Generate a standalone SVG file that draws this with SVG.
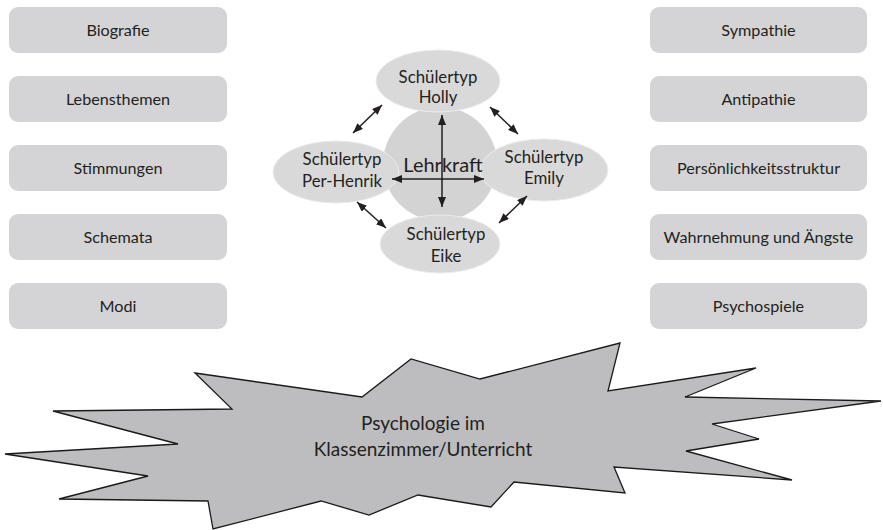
<svg xmlns="http://www.w3.org/2000/svg" width="883" height="530" viewBox="0 0 883 530">
<defs>
<style>
text{font-family:Lato,"Open Sans","Liberation Sans",sans-serif;fill:#231f20;text-anchor:middle}
.box{fill:#d4d4d6}
.bt{font-size:16.2px}
.ell{fill:#d9d9da;stroke:#ececec;stroke-width:1}
.et{font-size:16.8px}
.con line{stroke:#231f20;stroke-width:1.5;marker-start:url(#ah);marker-end:url(#ah)}
</style>
<marker id="ah" viewBox="0 0 10 8" refX="10" refY="4" markerWidth="10" markerHeight="8" markerUnits="userSpaceOnUse" orient="auto-start-reverse">
<path d="M0,0 L10,4 L0,8 z" fill="#231f20"/>
</marker>
</defs>
<rect width="883" height="530" fill="#fff"/>

<g id="biografie"><rect class="box" x="9" y="7" width="218" height="46" rx="9"/><text class="bt" x="118" y="36">Biografie</text></g>
<g id="lebensthemen"><rect class="box" x="9" y="76" width="218" height="46" rx="9"/><text class="bt" x="118" y="105">Lebensthemen</text></g>
<g id="stimmungen"><rect class="box" x="9" y="145" width="218" height="46" rx="9"/><text class="bt" x="118" y="174">Stimmungen</text></g>
<g id="schemata"><rect class="box" x="9" y="214" width="218" height="46" rx="9"/><text class="bt" x="118" y="243">Schemata</text></g>
<g id="modi"><rect class="box" x="9" y="283" width="218" height="46" rx="9"/><text class="bt" x="118" y="312">Modi</text></g>

<g id="sympathie"><rect class="box" x="650" y="7" width="217" height="46" rx="9"/><text class="bt" x="758.5" y="36">Sympathie</text></g>
<g id="antipathie"><rect class="box" x="650" y="76" width="217" height="46" rx="9"/><text class="bt" x="758.5" y="105">Antipathie</text></g>
<g id="persoenlichkeit"><rect class="box" x="650" y="145" width="217" height="46" rx="9"/><text class="bt" x="758.5" y="174">Persönlichkeitsstruktur</text></g>
<g id="wahrnehmung"><rect class="box" x="650" y="214" width="217" height="46" rx="9"/><text class="bt" x="758.5" y="243">Wahrnehmung und Ängste</text></g>
<g id="psychospiele"><rect class="box" x="650" y="283" width="217" height="46" rx="9"/><text class="bt" x="758.5" y="312">Psychospiele</text></g>

<g id="lehrkraft"><circle cx="440" cy="164" r="57" fill="#d3d3d4"/></g>
<g id="holly"><ellipse class="ell" cx="438" cy="81" rx="62" ry="31"/><text class="et" x="438" y="83">Schülertyp</text><text class="et" x="438" y="103">Holly</text></g>
<g id="perhenrik"><ellipse class="ell" cx="336" cy="172" rx="63" ry="31"/><text class="et" x="342" y="165">Schülertyp</text><text class="et" x="342" y="187">Per-Henrik</text></g>
<g id="emily"><ellipse class="ell" cx="544" cy="170" rx="64" ry="31"/><text class="et" x="544" y="163">Schülertyp</text><text class="et" x="544" y="184">Emily</text></g>
<g id="eike"><ellipse class="ell" cx="440" cy="244" rx="60" ry="29"/><text class="et" x="446" y="240">Schülertyp</text><text class="et" x="446" y="262">Eike</text></g>
<text x="443" y="172" style="font-size:20px">Lehrkraft</text>

<g class="con" id="connectors">
<line x1="442" y1="115" x2="442" y2="207"/>
<line x1="392" y1="179" x2="484" y2="179"/>
<line x1="353" y1="133" x2="382" y2="105"/>
<line x1="490" y1="107" x2="518" y2="134"/>
<line x1="357" y1="202" x2="386" y2="228"/>
<line x1="527" y1="196" x2="499" y2="223"/>
</g>

<g id="psychologie">
<polygon points="195,373 362,397 411,359 480,379 620,343 608,391 756,368 685,397 881,401 712,424 759,439 686,451 792,480 614,467 625,493 514,482 491,507 418,495 369,515 321,501 213,529 208,501 59,499 148,476 5,454 178,444 53,411 232,409" fill="#bdbdbf" stroke="#1a1a1a" stroke-width="1.3" stroke-linejoin="miter"/>
<text x="423" y="430" style="font-size:19px">Psychologie im</text>
<text x="423" y="456" style="font-size:19px">Klassenzimmer/Unterricht</text>
</g>
</svg>
